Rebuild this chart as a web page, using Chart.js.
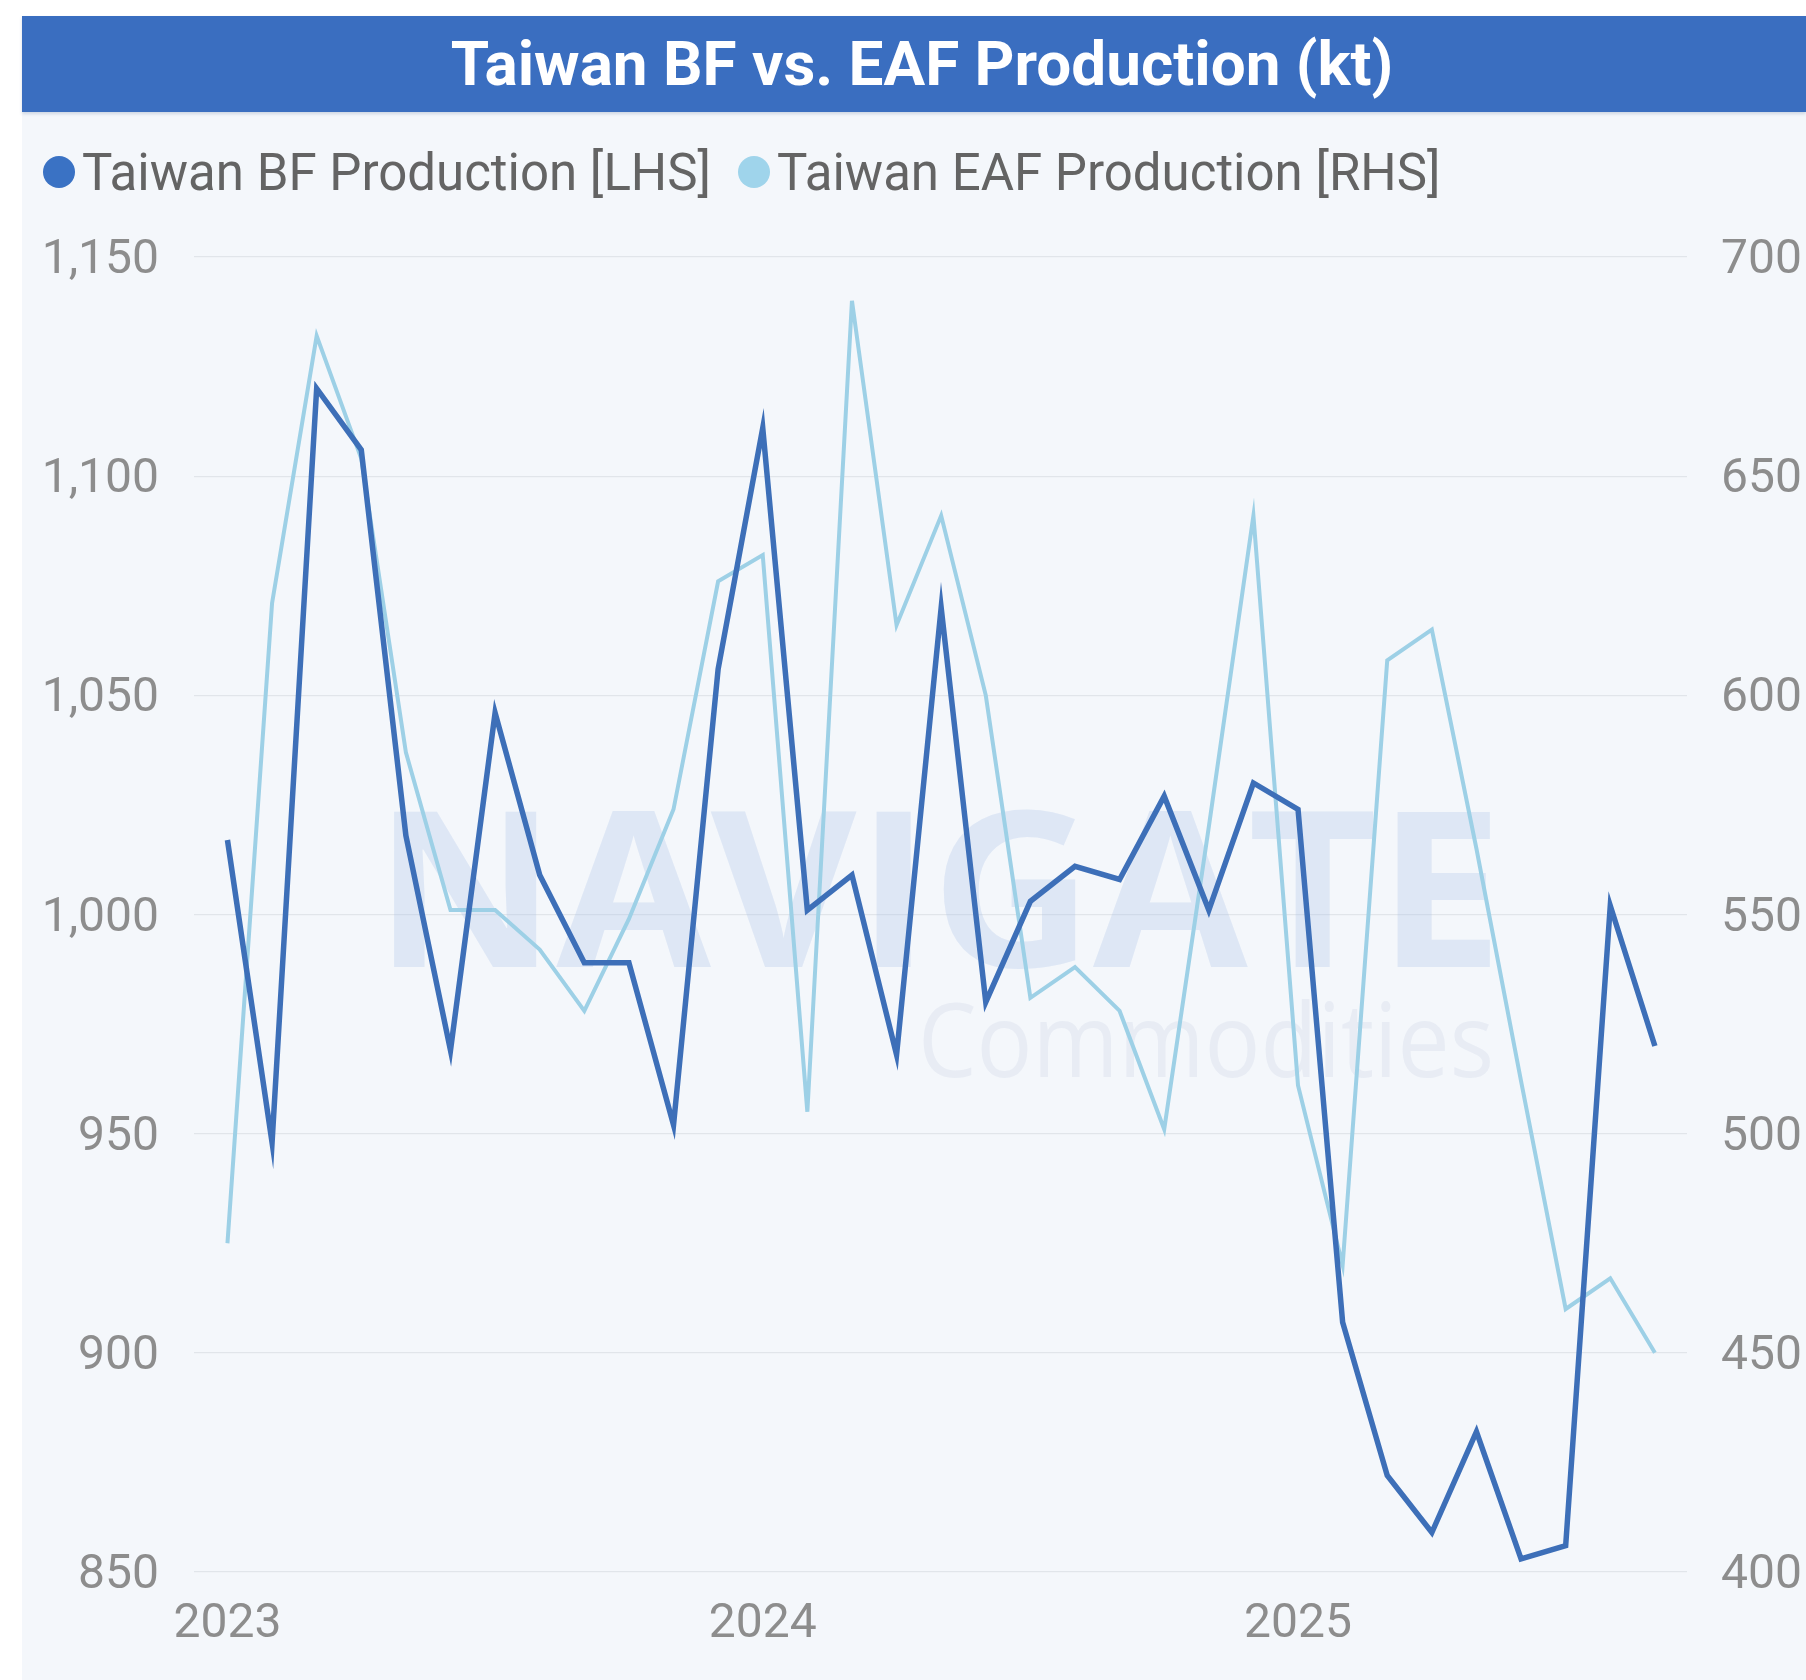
<!DOCTYPE html>
<html>
<head>
<meta charset="utf-8">
<title>Taiwan BF vs. EAF Production</title>
<script src="https://cdn.jsdelivr.net/npm/chart.js@4.4.1/dist/chart.umd.min.js"></script>
<style>
    html, body { margin: 0; padding: 0; background: #fff; }
    body { width: 1806px; height: 1680px; position: relative; overflow: hidden; font-family: Roboto, sans-serif; }
    #panel { position: absolute; left: 22px; top: 16px; width: 1784px; height: 1664px; background: #f4f7fb; }
    #header {
        position: relative; z-index: 2;
        height: 96px; line-height: 96px;
        background: #3a6ec0; color: #fff;
        font-weight: 700; font-size: 62px; text-align: center;
        padding-left: 16px;
        box-shadow: 0 2px 3px rgba(40, 70, 120, 0.18);
    }
    #legend {
        position: absolute; z-index: 2; left: 21px; top: 126px; height: 60px;
        display: flex; align-items: center;
        font-size: 51px; color: #646464; white-space: nowrap;
    }
    #legend .item { display: flex; align-items: center; margin-right: 27px; }
    #legend .dot { width: 32px; height: 32px; border-radius: 50%; margin-right: 7px; }
    #wrap { position: absolute; left: 0; top: 96px; width: 1784px; height: 1568px; }
</style>
</head>
<body>
<div id="panel">
    <div id="header">Taiwan BF vs. EAF Production (kt)</div>
    <div id="legend"></div>
    <div id="wrap"><canvas id="chart" width="1784" height="1568"></canvas></div>
</div>
<script>
const months = [
    'Jan 2023', 'Feb 2023', 'Mar 2023', 'Apr 2023', 'May 2023', 'Jun 2023',
    'Jul 2023', 'Aug 2023', 'Sep 2023', 'Oct 2023', 'Nov 2023', 'Dec 2023',
    'Jan 2024', 'Feb 2024', 'Mar 2024', 'Apr 2024', 'May 2024', 'Jun 2024',
    'Jul 2024', 'Aug 2024', 'Sep 2024', 'Oct 2024', 'Nov 2024', 'Dec 2024',
    'Jan 2025', 'Feb 2025', 'Mar 2025', 'Apr 2025', 'May 2025', 'Jun 2025',
    'Jul 2025', 'Aug 2025', 'Sep 2025'
];

// kt, left axis
const bfProduction = [
    1017, 948, 1120, 1106, 1018, 969, 1046, 1009, 989, 989, 952, 1056,
    1111, 1001, 1009, 968, 1070, 980, 1003, 1011, 1008, 1027, 1001, 1030,
    1024, 907, 872, 859, 882, 853, 856, 1002, 970
];

// kt, right axis
const eafProduction = [
    475, 621, 682, 654, 587, 551, 551, 542, 528, 549, 574, 626,
    632, 505, 690, 616, 641, 600, 531, 538, 528, 501, 570, 641,
    511, 470, 608, 615, 565, 512, 460, 467, 450
];

const seriesNames = ['Taiwan BF Production [LHS]', 'Taiwan EAF Production [RHS]'];
const yearStarts = [0, 12, 24];
const lhsRange = [850, 1150];
const rhsRange = [400, 700];
const tickStep = 50;

const lineColors = ['#3d6fb8', '#9dd0e6'];
const dotColors = ['#3a72c4', '#9fd4eb'];

// legend in html, above the canvas
let legend = document.getElementById('legend');
seriesNames.forEach(function (name, i) {
    let item = document.createElement('span');
    item.className = 'item';
    let dot = document.createElement('span');
    dot.className = 'dot';
    dot.style.background = dotColors[i];
    item.appendChild(dot);
    item.appendChild(document.createTextNode(name));
    legend.appendChild(item);
});

// faint logo text behind the lines
function drawFitted(ctx, text, font, color, x, baseline, width) {
    ctx.save();
    ctx.font = font;
    let w = ctx.measureText(text).width;
    ctx.translate(x, baseline);
    ctx.scale(width / w, 1);
    ctx.fillStyle = color;
    ctx.textBaseline = 'alphabetic';
    ctx.fillText(text, 0, 0);
    ctx.restore();
}

const watermark = {
    id: 'watermark',
    beforeDatasetsDraw(chart) {
        let ctx = chart.ctx;
        drawFitted(ctx, 'NAVIGATE', '700 217px "Open Sans"', 'rgba(165,192,230,0.28)', 352, 855, 1129);
        drawFitted(ctx, 'Commodities', '400 102px "Open Sans"', 'rgba(175,190,215,0.18)', 896, 965, 576);
    }
};

const tickFont = { family: 'Roboto', size: 48 };
const tickColor = '#8d8d8d';

new Chart('chart', {
    type: 'line',
    data: {
        datasets: [
            {
                label: seriesNames[0],
                data: bfProduction.map((v, i) => ({ x: i, y: v })),
                yAxisID: 'yL',
                borderColor: lineColors[0],
                borderWidth: 5.5,
                borderJoinStyle: 'miter',
                pointRadius: 0,
                tension: 0
            },
            {
                label: seriesNames[1],
                data: eafProduction.map((v, i) => ({ x: i, y: v })),
                yAxisID: 'yR',
                borderColor: lineColors[1],
                borderWidth: 4,
                borderJoinStyle: 'miter',
                pointRadius: 0,
                tension: 0
            }
        ]
    },
    options: {
        responsive: false,
        animation: false,
        layout: { padding: { top: 145, left: 0, right: 0, bottom: 0 } },
        plugins: {
            legend: { display: false },
            tooltip: { enabled: false }
        },
        scales: {
            x: {
                type: 'linear',
                min: -0.75,
                max: 32.72,
                grid: { display: false, drawTicks: false },
                border: { display: false },
                afterBuildTicks: function (scale) {
                    scale.ticks = yearStarts.map(v => ({ value: v }));
                },
                afterFit: function (scale) { scale.height = 108; },
                ticks: {
                    padding: 24,
                    color: tickColor,
                    font: tickFont,
                    autoSkip: false,
                    maxRotation: 0,
                    callback: v => months[v].slice(-4)
                }
            },
            yL: {
                position: 'left',
                min: lhsRange[0],
                max: lhsRange[1],
                grid: { color: '#e1e5ea', lineWidth: 1.2, drawTicks: false },
                border: { display: false },
                afterFit: function (scale) { scale.width = 172; },
                ticks: {
                    stepSize: tickStep,
                    padding: 35,
                    labelOffset: 4,
                    color: tickColor,
                    font: tickFont,
                    callback: v => v.toLocaleString('en-US')
                }
            },
            yR: {
                position: 'right',
                min: rhsRange[0],
                max: rhsRange[1],
                grid: { display: false, drawTicks: false },
                border: { display: false },
                afterFit: function (scale) { scale.width = 119; },
                ticks: {
                    stepSize: tickStep,
                    padding: 34,
                    labelOffset: 4,
                    color: tickColor,
                    font: tickFont,
                    callback: v => v.toLocaleString('en-US')
                }
            }
        }
    },
    plugins: [watermark]
});
</script>
</body>
</html>
